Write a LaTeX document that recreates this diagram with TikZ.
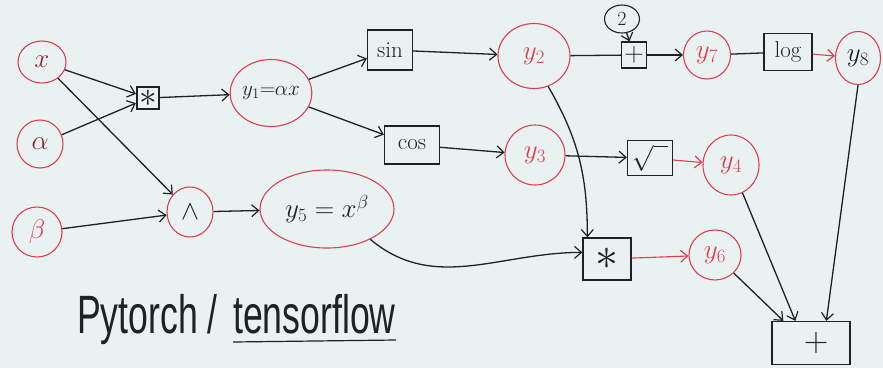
\documentclass[tikz,border=0pt]{standalone}
\usepackage{fix-cm}
\usepackage{fontspec}
\usepackage{graphicx}
\newfontfamily\handfont{Liberation Sans}
\usetikzlibrary{arrows.meta,shapes.geometric}
\definecolor{paper}{RGB}{233,242,241}
\definecolor{pen}{RGB}{30,34,38}
\definecolor{redpen}{RGB}{222,62,84}
\definecolor{darkred}{RGB}{140,40,55}
\begin{document}
\begin{tikzpicture}[x=1pt,y=-1pt,
  every node/.style={inner sep=0pt, text=pen},
  lab/.style={font=\fontsize{27}{29}\selectfont},
  vnode/.style={ellipse, draw=redpen, line width=1.1pt, lab},
  opbox/.style={rectangle, draw=pen, line width=1.3pt, lab},
  tip/.style={-{Straight Barb[length=7pt,width=12pt,line width=1.2pt]}},
  edge/.style={draw=pen, line width=1.3pt, tip},
  redge/.style={draw=redpen, line width=1.1pt, tip},
  plain/.style={draw=pen, line width=1.3pt},
  hand/.style={font=\handfont\fontsize{54}{60}\selectfont, text=pen}
]
\fill[paper] (0,0) rectangle (883,368);
\useasboundingbox (0,0) rectangle (883,368);

% variables
\node[vnode, minimum width=48pt, minimum height=42pt, text=darkred] (x) at (42,62) {$x$};
\node[vnode, minimum width=46pt, minimum height=48pt, text=darkred] (alpha) at (40,144) {$\alpha$};
\node[vnode, minimum width=50pt, minimum height=50pt, text=redpen] (beta) at (37,232) {$\beta$};
\node[vnode, minimum width=68pt, minimum height=67pt, font=\fontsize{21}{23}\selectfont] (y1) at (271,93) {$y_1{=}\alpha x$};
\node[vnode, minimum width=46pt, minimum height=50pt] (pow) at (190,212) {$\wedge$};
\node[vnode, minimum width=134pt, minimum height=78pt] (y5) at (327,209) {$y_5=x^{\beta}$};
\node[vnode, minimum width=72pt, minimum height=65pt, text=redpen] (y2) at (534,56) {$y_2$};
\node[vnode, minimum width=47pt, minimum height=48pt, text=redpen] (y7) at (707,55) {$y_7$};
\node[vnode, minimum width=45pt, minimum height=53pt] (y8) at (858,58) {$y_8$};
\node[vnode, minimum width=60pt, minimum height=60pt, text=redpen] (y3) at (535,155) {$y_3$};
\node[vnode, minimum width=56pt, minimum height=60pt, text=redpen] (y4) at (731,165) {$y_4$};
\node[vnode, minimum width=52pt, minimum height=50pt, text=redpen] (y6) at (715,255) {$y_6$};
\node[ellipse, draw=pen, line width=1.1pt, minimum width=35pt, minimum height=28pt, font=\fontsize{20}{22}\selectfont] (two) at (622,19) {2};

% operations
\node[opbox, line width=2.2pt, minimum width=22pt, minimum height=22pt] (mul1) at (148,98) {\scalebox{1.3}{$*$}};
\node[opbox, minimum width=45pt, minimum height=40pt, font=\fontsize{23}{25}\selectfont] (sin) at (390,50) {sin};
\node[opbox, minimum width=55pt, minimum height=38pt, font=\fontsize{23}{25}\selectfont] (cos) at (412,145) {cos};
\node[opbox, minimum width=25pt, minimum height=26pt] (add1) at (634,55) {$+$};
\node[opbox, minimum width=48pt, minimum height=37pt, font=\fontsize{23}{25}\selectfont] (log) at (788,52) {log};
\node[opbox, minimum width=45pt, minimum height=35pt, font=\fontsize{26}{28}\selectfont] (sqrt) at (650,158) {$\sqrt{\phantom{x}}$};
\node[opbox, minimum width=48pt, minimum height=42pt] (mul2) at (607,259) {\scalebox{1.7}{$*$}};
\node[opbox, minimum width=78pt, minimum height=43pt, font=\fontsize{34}{36}\selectfont] (add2) at (811,343) {\hspace*{10pt}$+$};

% title
\node[hand, anchor=base west] (pt) at (77,333) {\scalebox{0.66}[1]{Pytorch /}};
\node[hand, anchor=base west] (tf) at (233,333) {\scalebox{0.66}[1]{tensorflow}};
\draw[pen, line width=1.2pt] ([yshift=-9pt]tf.base west) -- ([yshift=-7pt]tf.base east);

% connectors
\draw[edge] (x) -- (mul1);
\draw[edge] (alpha) -- (mul1);
\draw[edge] (x) -- (pow);
\draw[edge] (beta) -- (pow);
\draw[edge] (mul1) -- (y1);
\draw[edge] (y1) -- (sin);
\draw[edge] (y1) -- (cos);
\draw[edge] (pow) -- (y5);
\draw[edge] (sin) -- (y2);
\draw[edge] (cos) -- (y3);
\draw[plain] (y2) -- (add1);
\draw[edge] (two) -- (add1);
\draw[edge] (add1) -- (y7);
\draw[plain] (y7) -- (log);
\draw[redge] (log) -- (y8);
\draw[edge] (y3) -- (sqrt);
\draw[redge] (sqrt) -- (y4);
\draw[edge] (y2.-65) to[out=-60, in=90] ([xshift=5pt]mul2.north west);
\draw[edge] (y5.-35) to[out=-40, in=180] (mul2.165);
\draw[redge] (mul2) -- (y6);
\draw[edge] (y4) -- ([xshift=24pt]add2.north west);
\draw[edge] (y6) -- ([xshift=12pt]add2.north west);
\draw[edge] (y8.south) -- ([xshift=55pt]add2.north west);
\end{tikzpicture}
\end{document}
